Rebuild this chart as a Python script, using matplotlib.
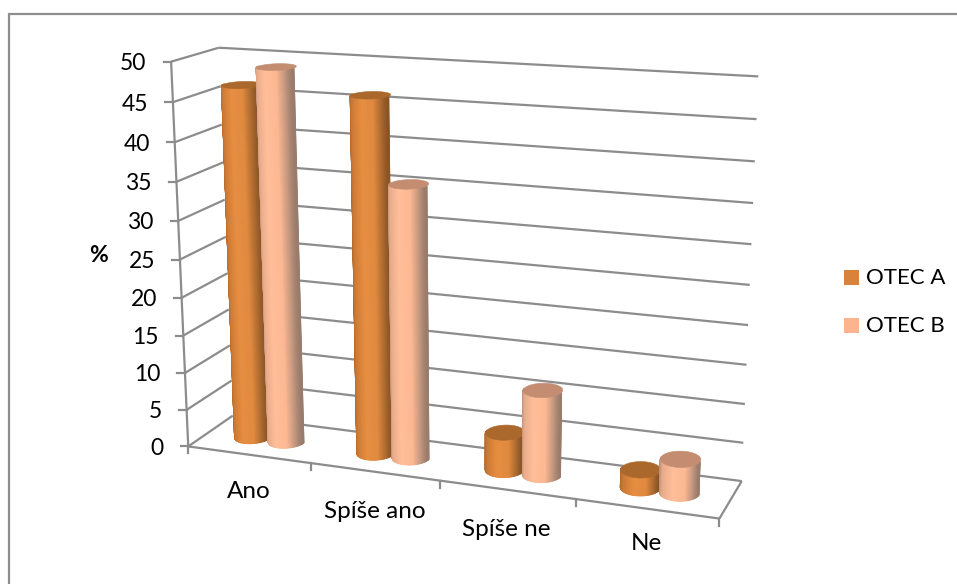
import numpy as np
import matplotlib
matplotlib.use('Agg')
import matplotlib.pyplot as plt
from matplotlib.colors import LinearSegmentedColormap
from matplotlib.patches import Polygon, Rectangle

# Chart data
categories = ['Ano', 'Spíše ano', 'Spíše ne', 'Ne']
otec_a = [46.5, 46.2, 4.9, 2.3]
otec_b = [49.0, 35.5, 11.0, 4.3]
y_ticks = [0, 5, 10, 15, 20, 25, 30, 35, 40, 45, 50]

# Camera anchors: (category pos, depth, value) -> picture pixel
anchors_world = [(0, 0, 0), (0, 0, 50), (0, 1, 0), (0, 1, 50), (4, 1, 0), (4, 1, 50),
                 (4, 0, 0), (1, 0, 0), (2, 0, 0), (3, 0, 0), (0, 0, 25), (4, 1, 25)]
anchors_pixel = [(188.5, 446.5), (171.5, 62), (233, 415.5), (218, 48), (741.7, 481), (758.7, 76.7),
                 (719.5, 517.5), (310.7, 464), (439.7, 481.5), (575.7, 499.5), (180, 258), (749.7, 284.7)]

GRID = '#8c8c8c'
CMAP_A = LinearSegmentedColormap.from_list('a', [(0, '#a8642a'), (0.18, '#cc7a36'), (0.5, '#e78e41'),
                                                 (0.78, '#e08a40'), (0.92, '#b06c30'), (1, '#8a5526')])
CMAP_B = LinearSegmentedColormap.from_list('b', [(0, '#b08a76'), (0.15, '#e8ab8a'), (0.45, '#ffbe99'),
                                                 (0.75, '#fcb893'), (0.9, '#c99a80'), (1, '#9a7c6c')])
TOP_A, TOP_B = '#ab682c', '#c48d72'
DEPTH_UNITS = 0.62  # how many category widths the floor is deep
RADIUS = 0.137
OFFSET = 0.14


def fit_camera(world, pixel):
    rows, rhs = [], []
    for (x, y, z), (u, v) in zip(world, pixel):
        rows.append([x, y, z, 1, 0, 0, 0, 0, -u * x, -u * y, -u * z])
        rows.append([0, 0, 0, 0, x, y, z, 1, -v * x, -v * y, -v * z])
        rhs += [u, v]
    p = np.linalg.lstsq(np.array(rows, float), np.array(rhs, float), rcond=None)[0]
    return np.append(p, 1).reshape(3, 4)


camera = fit_camera(anchors_world, anchors_pixel)


def project(x, y, z):
    z = np.asarray(z, float)
    pts = np.stack([np.asarray(x, float) * np.ones_like(z), np.asarray(y, float) * np.ones_like(z),
                    z, np.ones_like(z)], axis=-1)
    h = pts @ camera.T
    return h[..., 0] / h[..., 2], h[..., 1] / h[..., 2]


def line3d(ax, a, b, **kw):
    px, py = project([a[0], b[0]], [a[1], b[1]], [a[2], b[2]])
    ax.plot(px, py, color=GRID, lw=1.6, solid_capstyle='butt', **kw)


def cylinder(ax, cx, value, cmap, top, z):
    cy = 0.5
    # front half of the circle, left to right on screen
    t = np.linspace(np.pi, 2 * np.pi, 61)
    xs = cx + RADIUS * np.cos(t)
    ys = cy + RADIUS / DEPTH_UNITS * np.sin(t)
    bx, by = project(xs, ys, np.zeros_like(xs))
    tx, ty = project(xs, ys, np.full_like(xs, value))
    shade = (1 + np.cos(t - np.pi) * -1) / 2
    ax.pcolormesh(np.vstack([bx, tx]), np.vstack([by, ty]), np.vstack([shade, shade]),
                  shading='gouraud', cmap=cmap, vmin=0, vmax=1, zorder=z)
    t = np.linspace(0, 2 * np.pi, 80)
    px, py = project(cx + RADIUS * np.cos(t), cy + RADIUS / DEPTH_UNITS * np.sin(t), np.full_like(t, value))
    ax.add_patch(Polygon(np.column_stack([px, py]), closed=True, fc=top, ec=top, lw=0.4, zorder=z + 0.1))


def main():
    plt.rcParams['font.family'] = ['Lato', 'DejaVu Sans']

    fig = plt.figure(figsize=(9.57, 5.84), dpi=100)
    ax = fig.add_axes([0, 0, 1, 1])
    ax.set_xlim(0, 957)
    ax.set_ylim(584, 0)
    ax.axis('off')

    # Outer chart frame, only top and left fall inside the picture
    ax.plot([9, 9, 957], [584, 13.5, 13.5], color='#8e8e8e', lw=1.6, solid_joinstyle='miter')

    n = len(categories)

    # Walls: grid lines on left and back wall
    for v in y_ticks:
        line3d(ax, (0, 0, v), (0, 1, v), zorder=2)
        line3d(ax, (0, 1, v), (n, 1, v), zorder=2)
        # tick and its label on the front left edge
        px, py = project(0, 0, v)
        ax.plot([px - 7.5, px], [py, py], color=GRID, lw=1.6, zorder=2)
        ax.text(px - 24.5, py, str(v), ha='right', va='center_baseline', fontsize=16.5, color='black')
    line3d(ax, (0, 0, 0), (0, 0, 50), zorder=2)

    # Floor edges and category ticks
    line3d(ax, (0, 0, 0), (n, 0, 0), zorder=2)
    line3d(ax, (n, 0, 0), (n, 1, 0), zorder=2)
    for i in range(n + 1):
        px, py = project(i, 0, 0)
        ax.plot([px, px], [py, py + 7], color=GRID, lw=1.6, zorder=2)

    # Columns, left to right
    for i in range(n):
        cylinder(ax, i + 0.5 - OFFSET, otec_a[i], CMAP_A, TOP_A, 5 + i)
        cylinder(ax, i + 0.5 + OFFSET, otec_b[i], CMAP_B, TOP_B, 5.5 + i)

    # Category labels under the front edge
    label_pos = [(249, 492), (375, 511), (506, 530), (646, 543)]
    for name, (lx, ly) in zip(categories, label_pos):
        ax.text(lx, ly, name, ha='center', va='center', fontsize=17.5, color='black')

    ax.text(98, 256, '%', ha='center', va='center', fontsize=16.5, fontweight='bold', color='black')

    # Legend
    for name, col, ly in [('OTEC A', '#d9823b', 277.5), ('OTEC B', '#fcb48f', 325.5)]:
        ax.add_patch(Rectangle((844, ly - 7.5), 15, 15, fc=col, ec='none'))
        ax.text(866, ly, name, ha='left', va='center', fontsize=16, color='black')

    fig.savefig('out.png', dpi=100)
    plt.close()


if __name__ == "__main__":
    main()
